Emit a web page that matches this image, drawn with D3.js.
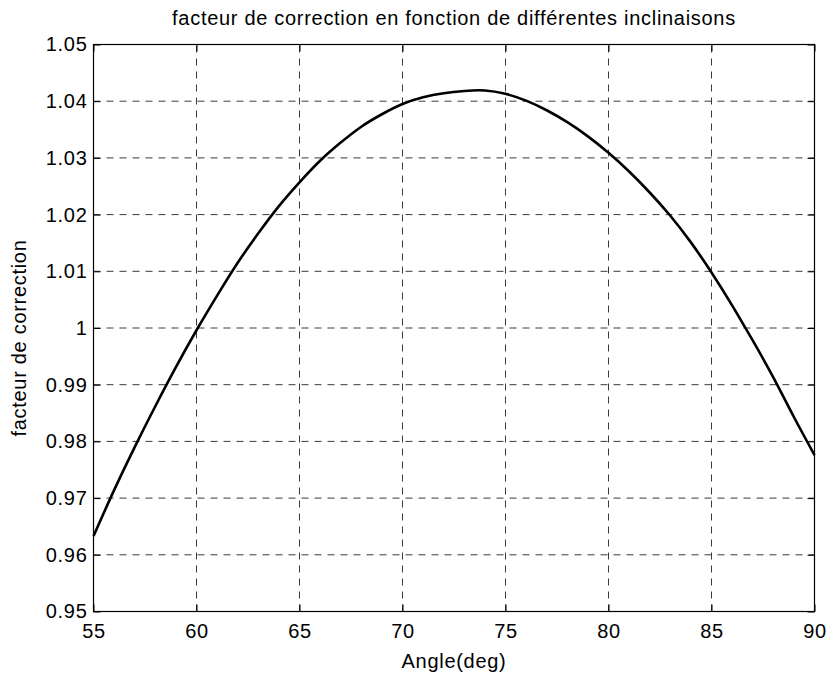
<!DOCTYPE html>
<html>
<head>
<meta charset="utf-8">
<script src="https://cdn.jsdelivr.net/npm/d3@7"></script>
<style>
  html, body { margin: 0; padding: 0; background: #fff; }
  svg { display: block; font-family: "Liberation Sans", Arial, sans-serif; }
</style>
</head>
<body>
<svg id="chart" width="827" height="675"></svg>
<script>
// Correction factor versus tilt angle (degrees)
const angles = [55, 56, 57, 58, 59, 60, 61, 62, 63, 64, 65, 66, 67, 68, 69, 70, 71, 72,
                73, 74, 75, 76, 77, 78, 79, 80, 81, 82, 83, 84, 85, 86, 87, 88, 89, 90];
const factors = [0.9633, 0.9714, 0.9790, 0.9862, 0.9931, 0.9996, 1.0057, 1.0115, 1.0167,
                 1.0215, 1.0257, 1.0295, 1.0327, 1.0355, 1.0377, 1.0395, 1.0407, 1.0414,
                 1.0418, 1.0419, 1.0413, 1.0401, 1.0384, 1.0363, 1.0338, 1.0309, 1.0276,
                 1.0239, 1.0198, 1.0151, 1.0098, 1.0040, 0.9978, 0.9913, 0.9843, 0.9776];
const xTicks = [55, 60, 65, 70, 75, 80, 85, 90];
const yTicks = [0.95, 0.96, 0.97, 0.98, 0.99, 1.00, 1.01, 1.02, 1.03, 1.04, 1.05];
const yTickLabels = ["0.95", "0.96", "0.97", "0.98", "0.99", "1", "1.01", "1.02", "1.03", "1.04", "1.05"];

const titleText = "facteur de correction en fonction de différentes inclinaisons";
const xLabelText = "Angle(deg)";
const yLabelText = "facteur de correction";

const svg = d3.select("#chart");
const margin = { left: 93.5, right: 827 - 814.5, top: 44.5, bottom: 675 - 611.5 };
const W = 827, H = 675;
const fontSize = 20;
const spacing = "0.7px";

const x = d3.scaleLinear().domain([55, 90]).range([margin.left, W - margin.right]);
const y = d3.scaleLinear().domain([0.95, 1.05]).range([H - margin.bottom, margin.top]);

// dashed grid
const grid = svg.append("g");
grid.selectAll("line.vx").data(xTicks.slice(1, -1)).join("line")
  .attr("x1", d => x(d)).attr("x2", d => x(d))
  .attr("y1", y(0.95)).attr("y2", y(1.05));
grid.selectAll("line.hy").data(yTicks.slice(1, -1)).join("line")
  .attr("x1", x(55)).attr("x2", x(90))
  .attr("y1", d => y(d)).attr("y2", d => y(d));
grid.selectAll("line")
  .attr("stroke", "#3a3a3a").attr("stroke-width", 1).attr("stroke-dasharray", "7,6");

// axes with inward ticks on all four sides
const tickLen = 7;
const xAxisB = d3.axisBottom(x).tickValues(xTicks).tickSize(-tickLen).tickPadding(12);
const xAxisT = d3.axisTop(x).tickValues(xTicks).tickSize(-tickLen).tickFormat("");
const yAxisL = d3.axisLeft(y).tickValues(yTicks).tickSize(-tickLen).tickPadding(6)
  .tickFormat((d, i) => yTickLabels[i]);
const yAxisR = d3.axisRight(y).tickValues(yTicks).tickSize(-tickLen).tickFormat("");

function styleAxis(g) {
  g.select(".domain").remove();
  g.selectAll(".tick line").attr("stroke", "#000").attr("stroke-width", 1);
  g.selectAll(".tick text").attr("fill", "#000")
    .style("font-size", fontSize + "px")
    .style("letter-spacing", spacing)
    .style("font-family", "'Liberation Sans', Arial, sans-serif");
}
svg.append("g").attr("transform", `translate(0,${y(0.95)})`).call(xAxisB).call(styleAxis);
svg.append("g").attr("transform", `translate(0,${y(1.05)})`).call(xAxisT).call(styleAxis);
svg.append("g").attr("transform", `translate(${x(55)},0)`).call(yAxisL).call(styleAxis);
svg.append("g").attr("transform", `translate(${x(90)},0)`).call(yAxisR).call(styleAxis);

// frame
svg.append("rect")
  .attr("x", x(55)).attr("y", y(1.05))
  .attr("width", x(90) - x(55)).attr("height", y(0.95) - y(1.05))
  .attr("fill", "none").attr("stroke", "#000").attr("stroke-width", 1.2);

// curve
const pts = angles.map((a, i) => [a, factors[i]]);
const line = d3.line().x(d => x(d[0])).y(d => y(d[1])).curve(d3.curveNatural);
svg.append("path")
  .datum(pts)
  .attr("d", line)
  .attr("fill", "none")
  .attr("stroke", "#000")
  .attr("stroke-width", 2.6)
  .attr("stroke-linejoin", "round");

// labels
function label(sel) {
  return sel.attr("text-anchor", "middle")
    .style("font-size", fontSize + "px")
    .style("letter-spacing", spacing);
}
svg.append("text")
  .attr("x", (x(55) + x(90)) / 2).attr("y", 25)
  .call(label)
  .text(titleText);
svg.append("text")
  .attr("x", (x(55) + x(90)) / 2).attr("y", 668)
  .call(label)
  .text(xLabelText);
svg.append("text")
  .attr("transform", `translate(26,338) rotate(-90)`)
  .call(label)
  .text(yLabelText);
</script>
</body>
</html>
